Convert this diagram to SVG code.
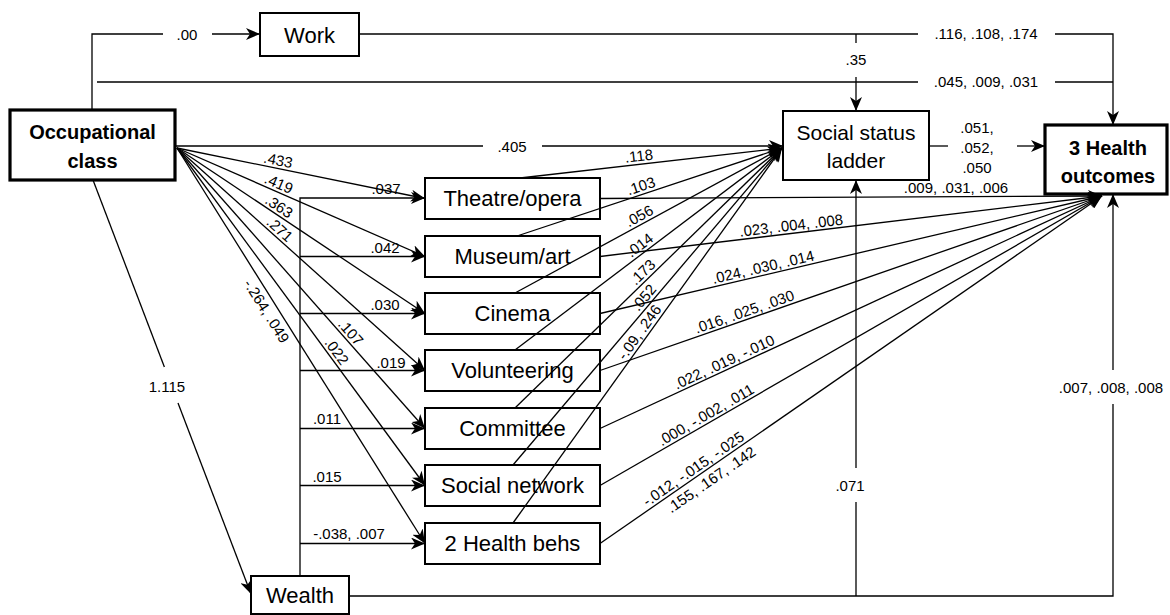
<svg xmlns="http://www.w3.org/2000/svg" width="1170" height="615" viewBox="0 0 1170 615">
<defs>
<marker id="ar" markerUnits="userSpaceOnUse" markerWidth="14" markerHeight="12" viewBox="0 0 14 12" refX="14" refY="6" orient="auto">
<path d="M0,0 L14,6 L0,12 L4,6 z" fill="#000"/>
</marker>
</defs>
<style>
.bx{fill:#fff;stroke:#000;stroke-width:2}
.bb{fill:#fff;stroke:#000;stroke-width:3.2}
.nt{font-family:"Liberation Sans",Arial,sans-serif;font-size:22px;text-anchor:middle;fill:#000}
.nb{font-family:"Liberation Sans",Arial,sans-serif;font-size:20px;font-weight:bold;text-anchor:middle;fill:#000}
.c{fill:none;stroke:#000;stroke-width:1.3}
.a{marker-end:url(#ar)}
.l{font-family:"Liberation Sans",Arial,sans-serif;font-size:15px;text-anchor:middle;fill:#000}
</style>
<rect width="1170" height="615" fill="#fff"/>

<g id="occupational-class"><rect class="bb" x="10" y="110" width="165" height="70"/><text class="nb" x="92.5" y="139">Occupational</text><text class="nb" x="92.5" y="168">class</text></g>
<g id="work"><rect class="bx" x="260" y="13" width="99" height="43"/><text class="nt" x="309.5" y="43">Work</text></g>
<g id="social-status-ladder"><rect class="bx" x="783" y="111" width="146" height="69"/><text class="nt" x="856" y="140" style="font-size:21px">Social status</text><text class="nt" x="856" y="168" style="font-size:21px">ladder</text></g>
<g id="health-outcomes"><rect class="bb" x="1045" y="125" width="122" height="69"/><text class="nb" x="1108" y="155">3 Health</text><text class="nb" x="1108" y="183">outcomes</text></g>
<g id="theatre"><rect class="bx" x="425" y="178" width="175" height="41"/><text class="nt" x="512.5" y="206">Theatre/opera</text></g>
<g id="museum"><rect class="bx" x="425" y="236" width="175" height="41"/><text class="nt" x="512.5" y="264">Museum/art</text></g>
<g id="cinema"><rect class="bx" x="425" y="293" width="175" height="41"/><text class="nt" x="512.5" y="321">Cinema</text></g>
<g id="volunteering"><rect class="bx" x="425" y="350" width="175" height="41"/><text class="nt" x="512.5" y="378">Volunteering</text></g>
<g id="committee"><rect class="bx" x="425" y="408" width="175" height="41"/><text class="nt" x="512.5" y="436">Committee</text></g>
<g id="social-network"><rect class="bx" x="425" y="465" width="175" height="41"/><text class="nt" x="512.5" y="493">Social network</text></g>
<g id="health-behs"><rect class="bx" x="425" y="523" width="175" height="41"/><text class="nt" x="512.5" y="551">2 Health behs</text></g>
<g id="wealth"><rect class="bx" x="251" y="576" width="98" height="38"/><text class="nt" x="300" y="603">Wealth</text></g>

<g id="connectors">
<path class="c" d="M92,110 V34 H163"/>
<path class="c a" d="M212,34 H260"/>
<path class="c" d="M359,34 H918"/>
<path class="c a" d="M1055,34 H1113 V125"/>
<path class="c" d="M97,82 H918"/>
<path class="c" d="M1055,82 H1113"/>
<path class="c" d="M856,34 V43"/>
<path class="c a" d="M856,77 V111"/>
<path class="c" d="M175,146 H483"/>
<path class="c a" d="M542,146 H783"/>
<path class="c" d="M929,146 H948"/>
<path class="c a" d="M1017,146 H1045"/>
<path class="c" d="M93,180 L164.4,367"/>
<path class="c a" d="M178,403 L251,594"/>

<path class="c a" d="M177,148 L425,198.5"/>
<path class="c a" d="M177,148 L425,256.5"/>
<path class="c a" d="M177,148 L425,313.5"/>
<path class="c a" d="M177,148 L425,370.5"/>
<path class="c a" d="M177,148 L425,428.5"/>
<path class="c a" d="M177,148 L425,485.5"/>
<path class="c a" d="M177,148 L425,543.5"/>

<path class="c a" d="M300,576 V198 H425"/>
<path class="c a" d="M300,256.5 H425"/>
<path class="c a" d="M300,313.5 H425"/>
<path class="c a" d="M300,370.5 H425"/>
<path class="c a" d="M300,428.5 H425"/>
<path class="c a" d="M300,485.5 H425"/>
<path class="c a" d="M300,543.5 H425"/>

<path class="c a" d="M520,178 L782,148"/>
<path class="c a" d="M517,236 L782,148"/>
<path class="c a" d="M515,293 L782,148"/>
<path class="c a" d="M515,350 L782,148"/>
<path class="c a" d="M515,408 L782,148"/>
<path class="c a" d="M513,465 L782,148"/>
<path class="c a" d="M513,523 L782,148"/>

<path class="c a" d="M600,198.5 L1102,196"/>
<path class="c a" d="M600,256.5 L1102,196"/>
<path class="c a" d="M600,313.5 L1102,196"/>
<path class="c a" d="M600,370.5 L1102,196"/>
<path class="c a" d="M600,428.5 L1102,196"/>
<path class="c a" d="M600,485.5 L1102,196"/>
<path class="c a" d="M600,543.5 L1102,196"/>

<path class="c" d="M349,596 H1113 V404"/>
<path class="c a" d="M1113,370 V194"/>
<path class="c" d="M856,596 V502"/>
<path class="c a" d="M856,468 V180"/>
</g>

<g id="labels">
<text class="l" x="187" y="40">.00</text>
<text class="l" x="986" y="39">.116, .108, .174</text>
<text class="l" x="986" y="87">.045, .009, .031</text>
<text class="l" x="856" y="65">.35</text>
<text class="l" x="512" y="152">.405</text>
<text class="l" x="977" y="133">.051,</text>
<text class="l" x="977" y="153">.052,</text>
<text class="l" x="977" y="173">.050</text>
<text class="l" x="956" y="193">.009, .031, .006</text>
<text class="l" x="1111" y="393">.007, .008, .008</text>
<text class="l" x="850" y="491">.071</text>
<text class="l" x="167" y="392">1.115</text>

<text class="l" x="386" y="194">.037</text>
<text class="l" x="385" y="253">.042</text>
<text class="l" x="385" y="310">.030</text>
<text class="l" x="391" y="368">.019</text>
<text class="l" x="327" y="424" >.011</text>
<text class="l" x="327" y="482">.015</text>
<text class="l" x="349" y="539">-.038, .007</text>

<text class="l" transform="translate(276.5,168.3) rotate(11.5)" y="-3">.433</text>
<text class="l" transform="translate(275.5,191.1) rotate(23.6)" y="-3">.419</text>
<text class="l" transform="translate(274.6,213.2) rotate(33.7)" y="-3">.363</text>
<text class="l" transform="translate(274.4,235.4) rotate(41.9)" y="-3">.271</text>
<text class="l" transform="translate(344.7,337.7) rotate(48.5)" y="-3">.107</text>
<text class="l" transform="translate(330.1,356.3) rotate(53.7)" y="-3">.022</text>
<text class="l" transform="translate(275.7,305.4) rotate(57.9)" y="16">-.264, .049</text>

<text class="l" transform="translate(639.9,164.2) rotate(-6.6)" y="-3">.118</text>
<text class="l" transform="translate(643.5,193.8) rotate(-18.4)" y="-3">.103</text>
<text class="l" transform="translate(643.1,223.2) rotate(-28.6)" y="-3">.056</text>
<text class="l" transform="translate(644.6,251.6) rotate(-37.2)" y="-3">.014</text>
<text class="l" transform="translate(648.2,277.9) rotate(-44.3)" y="-3">.173</text>
<text class="l" transform="translate(650.1,302.8) rotate(-49.8)" y="-3">.052</text>
<text class="l" transform="translate(646,336.9) rotate(-54.4)" y="-3">-.09, .246</text>

<text class="l" transform="translate(792.2,233.6) rotate(-6.8)" y="-3">.023, .004, .008</text>
<text class="l" transform="translate(765,275) rotate(-13.1)" y="-3">.024, .030, .014</text>
<text class="l" transform="translate(747,319.5) rotate(-19.1)" y="-3">.016, .025, .030</text>
<text class="l" transform="translate(727.5,369.5) rotate(-24.8)" y="-3">.022, .019, -.010</text>
<text class="l" transform="translate(710,422) rotate(-30)" y="-3">.000, -.002, .011</text>
<text class="l" transform="translate(698,475.6) rotate(-34.7)" y="-3">-.012, -.015, -.025</text>
<text class="l" transform="translate(705,470.7) rotate(-34.7)" y="16">.155, .167, .142</text>
</g>
</svg>
